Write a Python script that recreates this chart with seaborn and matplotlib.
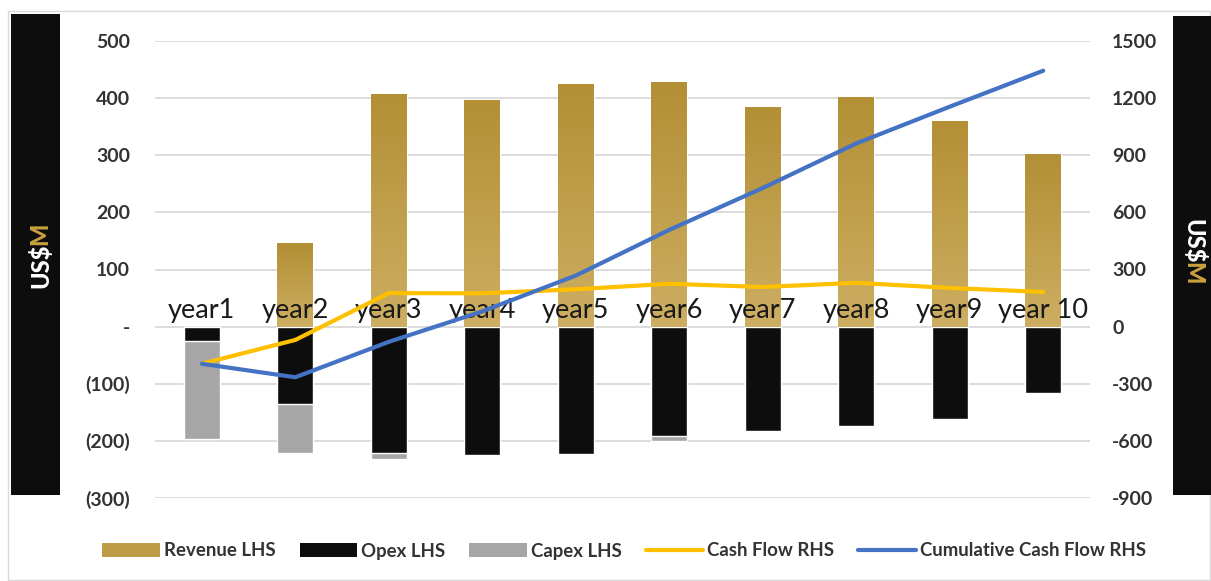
import numpy as np
import matplotlib
matplotlib.use("Agg")
import matplotlib.pyplot as plt
import seaborn as sns
from matplotlib.patches import Patch, Rectangle
from matplotlib.lines import Line2D
from matplotlib.colors import LinearSegmentedColormap
from matplotlib.ticker import FuncFormatter

# ---- data ----
categories = ["year1", "year2", "year3", "year4", "year5",
              "year6", "year7", "year8", "year9", "year 10"]
revenue = [0, 147, 407, 397, 425, 428, 385, 402, 360, 302]
opex = [-26, -136, -222, -225, -223, -191, -183, -174, -161, -117]
capex = [-171, -86, -9, -2, -2, -9, -1, -1, -1, -1]
cash_flow = [-195, -70, 176, 175, 196, 225, 208, 230, 203, 182]
cumulative_cash_flow = [-195, -266, -80, 80, 268, 508, 728, 962, 1155, 1344]
left_ticks = [-300, -200, -100, 0, 100, 200, 300, 400, 500]
right_ticks = [-900, -600, -300, 0, 300, 600, 900, 1200, 1500]
legend_labels = ["Revenue LHS", "Opex LHS", "Capex LHS", "Cash Flow RHS",
                 "Cumulative Cash Flow RHS"]

GOLD_TOP = "#B38F35"
GOLD_BOT = "#CDAE62"
GOLD = "#BE9C47"
BLACK = "#0D0D0D"
GREY = "#A6A6A6"
YELLOW = "#FFC000"
BLUE = "#4472C4"
TXT = "#333333"
MGOLD = "#C9A23E"

sns.set_theme(style="white")
plt.rcParams["font.family"] = ["Lato", "DejaVu Sans"]

W, H = 1211, 581
fig = plt.figure(figsize=(W / 100, H / 100), dpi=100)
fig.patch.set_facecolor("white")

def fx(px):
    return px / W

def fy(py):
    return 1 - py / H

# outer border
fig.patches.append(Rectangle((fx(8), fy(580)), fx(1210) - fx(8), fy(11) - fy(580),
                             transform=fig.transFigure, fill=False,
                             edgecolor="#D9D9D9", lw=1))
# black side boxes
fig.patches.append(Rectangle((fx(11), fy(495)), fx(60) - fx(11), fy(14) - fy(495),
                             transform=fig.transFigure, facecolor=BLACK, edgecolor="none"))
fig.patches.append(Rectangle((fx(1173), fy(495)), 1 - fx(1173), fy(16) - fy(495),
                             transform=fig.transFigure, facecolor=BLACK, edgecolor="none"))

ax = fig.add_axes([fx(155), fy(498), fx(1090) - fx(155), fy(41) - fy(498)])
ax.set_axisbelow(True)

x = np.arange(len(categories))
bw = 0.385

# revenue bars
sns.barplot(x=categories, y=revenue, ax=ax, color=GOLD, width=bw,
            saturation=1, errorbar=None, order=categories)
rev_patches = list(ax.patches)
# capex (drawn as total cost, under opex)
total_cost = [o + c for o, c in zip(opex, capex)]
sns.barplot(x=categories, y=total_cost, ax=ax, color=GREY, width=bw,
            saturation=1, errorbar=None, order=categories)
sns.barplot(x=categories, y=opex, ax=ax, color=BLACK, width=bw,
            saturation=1, errorbar=None, order=categories)

# gradient on revenue bars
cmap = LinearSegmentedColormap.from_list("gold", [GOLD_BOT, GOLD_TOP])
grad = np.linspace(0, 1, 256).reshape(-1, 1)
for p in rev_patches:
    x0, y0 = p.get_x(), p.get_y()
    w, h = p.get_width(), p.get_height()
    if h <= 0:
        continue
    im = ax.imshow(grad, extent=[x0, x0 + w, y0, y0 + h], origin="lower",
                   aspect="auto", cmap=cmap, zorder=p.get_zorder() + 0.1,
                   interpolation="bicubic")
    im.set_clip_path(p)

ax.set_xlim(-0.5, len(categories) - 0.5)
ax.set_ylim(-300, 500)
ax.set_yticks(left_ticks)
ax.yaxis.set_major_formatter(FuncFormatter(
    lambda v, pos: "-" if v == 0 else (f"({int(-v)})" if v < 0 else f"{int(v)}")))
ax.grid(axis="y", color="#D9D9D9", lw=1.3)
ax.grid(axis="x", visible=False)
ax.set_xticks([])
ax.set_xlabel("")
ax.set_ylabel("")
for s in ax.spines.values():
    s.set_visible(False)
ax.tick_params(axis="y", length=0, pad=18, labelsize=14, labelcolor=TXT)
for t in ax.get_yticklabels():
    t.set_fontweight("bold")

# category labels just above zero line
for i, cat in enumerate(categories):
    ax.annotate(cat, xy=(i, 0), xytext=(0, 6), textcoords="offset points",
                ha="center", va="baseline", fontsize=19.5, color="#1A1A1A",
                zorder=5)

# right axis lines
ax2 = ax.twinx()
sns.lineplot(x=x, y=cash_flow, ax=ax2, color=YELLOW, lw=3.0,
             solid_capstyle="round", solid_joinstyle="round")
sns.lineplot(x=x, y=cumulative_cash_flow, ax=ax2, color=BLUE, lw=3.0,
             solid_capstyle="round", solid_joinstyle="round")
ax2.set_ylim(-900, 1500)
ax2.set_yticks(right_ticks)
ax2.yaxis.set_major_formatter(FuncFormatter(lambda v, pos: f"{int(v)}"))
ax2.tick_params(axis="y", length=0, pad=16, labelsize=14, labelcolor=TXT)
for t in ax2.get_yticklabels():
    t.set_fontweight("bold")
ax2.grid(False)
ax2.set_ylabel("")
for s in ax2.spines.values():
    s.set_visible(False)
ax.set_xlim(-0.5, len(categories) - 0.5)

# side labels: "US$" white + "M" gold, joined
renderer = fig.canvas.get_renderer()
side_kw = dict(fontsize=17, fontweight="black")
t1 = fig.text(fx(40), fy(288), "US$", rotation=90, ha="center", va="bottom",
              color="white", **side_kw)
bb = t1.get_window_extent(renderer)
fig.text(fx(40), bb.y1 / H - 0.002, "M", rotation=90, ha="center", va="bottom",
         color=MGOLD, **side_kw)
t2 = fig.text(fx(1193), fy(219), "US$", rotation=270, ha="center", va="top",
              color="white", **side_kw)
bb2 = t2.get_window_extent(renderer)
fig.text(fx(1193), bb2.y0 / H + 0.002, "M", rotation=270, ha="center", va="top",
         color=MGOLD, **side_kw)

# legend
handles = [Patch(facecolor=GOLD, edgecolor="none"),
           Patch(facecolor=BLACK, edgecolor="none"),
           Patch(facecolor=GREY, edgecolor="none"),
           Line2D([0], [0], color=YELLOW, lw=3),
           Line2D([0], [0], color=BLUE, lw=3)]
leg = fig.legend(handles, legend_labels, loc="center", bbox_to_anchor=(fx(624), fy(551)),
                 ncol=5, frameon=False, handlelength=3.1, handleheight=0.75,
                 handletextpad=0.2, columnspacing=1.3,
                 prop={"size": 13.4, "weight": "bold"})
for t in leg.get_texts():
    t.set_color(TXT)

fig.savefig("out.png", dpi=100, facecolor="white")
